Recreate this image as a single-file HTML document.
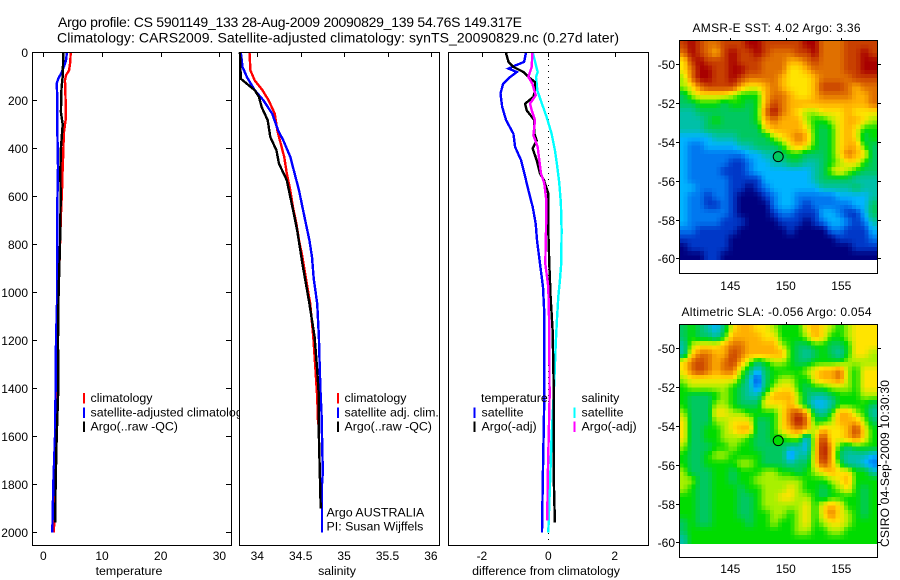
<!DOCTYPE html>
<html>
<head>
<meta charset="utf-8">
<title>Argo profile</title>
<style>
html,body{margin:0;padding:0;background:#fff;width:900px;height:580px;overflow:hidden}
svg{display:block}
text{font-family:"Liberation Sans",sans-serif;font-size:12px;fill:#000}
.ttl{font-size:14px}
.lab{font-size:12.4px}
</style>
</head>
<body>
<svg id="fig" xmlns="http://www.w3.org/2000/svg" width="900" height="580" viewBox="0 0 900 580">
<rect width="900" height="580" fill="#fff"/>
<text class="ttl" x="58" y="27" textLength="464">Argo profile: CS 5901149_133 28-Aug-2009 20090829_139 54.76S 149.317E</text>
<text class="ttl" x="57" y="42.5" textLength="562">Climatology: CARS2009. Satellite-adjusted climatology: synTS_20090829.nc (0.27d later)</text>
<g id="p1"></g>
<g id="p2"></g>
<g id="p3"></g>
<g id="m1"></g>
<g id="m2"></g>
<text transform="translate(889,547) rotate(-90)" x="0" y="0" textLength="167">CSIRO 04-Sep-2009 10:30:30</text>
</svg>
<script>
// ---- axis tick data
const depthTicks = [0,200,400,600,800,1000,1200,1400,1600,1800,2000];
const tempTicks = [0,10,20,30];
const salTicks = [34,34.5,35,35.5,36];
const salTickLabels = ['34','34.5','35','35.5','36'];
const diffTicks = [-2,0,2];
const lonTicks = [145,150,155];
const latTicks = [-50,-52,-54,-56,-58,-60];

// ---- temperature profiles
const tempClimDepth = [0,40,75,96,117,200,283,337,421,477,575,680,1000,1400,1550,2000];
const tempClim = [4.67,4.6,4.4,3.87,3.7,3.8,3.8,3.5,3.4,3.3,3.18,3.0,2.6,2.4,2.3,1.8];
const tempSatDepth = [0,30,54,83,110,130,200,337,477,617,800,1000,1200,1400,1600,1800,2000];
const tempSat = [4.0,3.9,3.6,3.13,2.55,2.28,2.4,2.4,2.5,2.4,2.4,2.38,2.16,2.1,2.0,1.7,1.54];
const tempArgoDepth = [0,100,150,250,300,400,500,600,800,1000,1200,1400,1600,1800,1960];
const tempArgo = [3.4,3.3,3.1,3.0,3.3,3.0,2.9,2.96,2.85,2.6,2.5,2.55,2.28,2.1,2.05];

// ---- salinity profiles
const salClimDepth = [0,75,117,158,200,255,325,367,436,505,575,644,714,783,853,942,1047,1186,1325,1436,1550];
const salClim = [33.91,33.92,33.97,34.06,34.13,34.2,34.23,34.26,34.31,34.34,34.38,34.41,34.45,34.48,34.52,34.56,34.61,34.645,34.67,34.69,34.7];
const salSatDepth = [0,61,103,158,200,255,325,367,436,505,575,644,714,783,853,942,1047,1186,1325,1436,1500,1750,1800,2000];
const salSat = [33.81,33.83,33.88,33.97,34.07,34.17,34.24,34.3,34.38,34.43,34.48,34.52,34.56,34.6,34.63,34.65,34.69,34.71,34.72,34.73,34.74,34.755,34.745,34.745];
const salArgoDepth = [0,110,137,158,186,228,283,353,408,464,533,603,672,742,811,881,942,1047,1186,1325,1436,1600,1900];
const salArgo = [33.8,33.81,33.9,33.97,34.02,34.05,34.12,34.15,34.22,34.25,34.34,34.38,34.42,34.46,34.49,34.52,34.55,34.6,34.66,34.69,34.71,34.71,34.73];

// ---- differences from climatology
const diffTempSatDepth = [0,40,54,68,82,103,131,172,228,283,339,394,450,505,575,644,714,783,881,978,1089,1436,1800,2000];
const diffTempSat = [-0.67,-0.73,-0.98,-1.2,-0.95,-1.15,-1.36,-1.44,-1.39,-1.27,-1.05,-1.0,-0.82,-0.72,-0.6,-0.47,-0.38,-0.34,-0.25,-0.16,-0.12,-0.12,-0.17,-0.19];
const diffTempArgoDepth = [0,40,61,82,103,124,158,186,214,242,283,339,367,401,450,505,533,589,742,881,1019,1158,1436,1800,1960];
const diffTempArgo = [-1.28,-1.2,-1.05,-0.75,-0.6,-0.4,-0.4,-0.45,-0.7,-0.65,-0.42,-0.42,-0.35,-0.47,-0.35,-0.25,-0.13,0,0,0.03,0.07,0.13,0.17,0.17,0.2];
const diffSalSatDepth = [0,50,82,103,158,200,269,339,408,478,546,630,742,881,950,1019,1117,1228,1339,1436,1600,1800,2000];
const diffSalSat = [-0.47,-0.38,-0.32,-0.37,-0.33,-0.23,-0.05,0.1,0.2,0.27,0.33,0.38,0.4,0.39,0.35,0.3,0.26,0.22,0.19,0.16,0.1,0.05,0];
const diffSalArgoDepth = [0,61,103,131,179,214,242,283,346,394,450,505,546,617,742,881,978,1158,1436,1800,1950];
const diffSalArgo = [-0.48,-0.5,-0.6,-0.48,-0.38,-0.55,-0.5,-0.4,-0.45,-0.32,-0.27,-0.22,-0.12,-0.06,-0.07,-0.09,0,0.03,0.04,-0.02,-0.03];

// ---- SST map (colour level per cell, north to south)
const sstGrid = [
[11,12,11,10,10,11,11,11,12,12,11,11,11,11,11,12,12,10,10,10,11,11,11,11],
[10,12,11,10,9,11,12,11,11,12,11,10,10,10,11,11,12,10,10,10,11,11,12,11],
[8,11,12,11,11,11,12,11,11,11,10,10,10,9,9,10,11,10,10,10,11,11,12,12],
[8,10,12,12,11,11,12,12,11,11,10,10,10,8,8,9,10,10,10,10,11,11,12,12],
[7,10,12,12,11,11,12,11,10,10,10,10,9,8,8,8,9,10,10,10,10,11,11,11],
[7,8,10,11,11,11,11,9,8,8,9,10,9,8,8,8,9,11,11,11,10,9,10,10],
[5,7,8,8,8,8,7,6,6,6,9,10,10,9,8,8,9,10,10,10,10,9,9,10],
[5,5,6,6,6,5,6,6,5,6,9,11,10,9,9,9,9,9,9,9,9,9,9,10],
[4,4,5,5,5,5,5,5,5,6,10,12,10,9,8,7,7,8,8,8,9,8,8,8],
[4,4,4,5,6,5,5,5,5,6,9,10,9,9,9,7,6,6,7,8,9,9,8,7],
[4,4,4,5,5,5,5,5,5,5,8,9,9,9,9,8,6,5,6,8,9,8,6,6],
[3,3,3,3,4,4,4,5,5,5,5,7,8,9,10,9,6,5,6,8,9,8,5,6],
[3,2,2,3,3,3,3,4,4,5,5,5,6,8,9,8,6,5,6,8,9,9,6,5],
[3,2,2,2,2,2,2,2,3,3,4,4,5,6,6,5,5,5,6,8,10,9,8,5],
[3,2,2,2,2,2,1,1,2,3,3,4,4,5,5,4,4,5,6,7,8,8,6,5],
[3,2,2,2,2,1,1,1,2,3,3,3,3,3,3,3,4,5,7,8,7,6,5,5],
[3,2,2,2,2,2,1,1,1,1,3,3,3,3,3,3,4,5,5,5,5,4,4,4],
[3,3,2,2,2,2,1,1,0,1,2,3,3,3,3,3,3,4,4,4,4,5,4,4],
[3,2,2,1,2,2,1,0,0,0,1,2,3,3,2,2,2,2,2,3,3,3,3,4],
[3,2,2,1,1,2,1,0,0,0,0,2,3,3,2,1,2,2,2,2,2,3,3,5],
[3,2,2,2,2,2,1,0,0,0,0,1,2,2,1,1,1,3,3,2,1,1,3,5],
[3,2,2,2,2,1,1,1,0,0,0,0,1,1,1,0,1,2,3,3,2,1,2,4],
[2,2,1,1,1,1,1,0,0,0,0,0,0,1,0,0,0,0,2,2,1,1,1,3],
[1,1,1,1,1,1,0,0,0,0,0,0,0,0,0,0,0,0,0,1,1,1,1,2],
[0,1,1,1,1,1,0,0,0,0,0,0,0,0,0,0,0,0,0,0,0,1,1,1],
[0,0,0,1,1,0,0,0,0,0,0,0,0,0,0,0,0,0,0,0,0,0,0,0]
];

// ---- SLA map (colour level per cell, north to south)
const slaGrid = [
[5,6,5,4,3,5,8,9,9,8,8,7,6,6,6,8,9,8,7,6,7,8,8,8],
[5,6,5,5,4,6,9,9,9,9,8,8,6,6,6,7,9,8,6,6,7,8,8,8],
[4,7,8,8,8,9,10,10,9,9,9,9,7,6,5,5,6,6,5,5,6,8,8,8],
[4,8,10,10,9,9,11,10,9,9,9,9,9,6,5,4,5,6,5,4,6,8,8,7],
[8,10,11,10,9,10,11,9,7,5,6,7,7,6,5,5,6,6,6,6,7,7,7,7],
[8,10,11,10,9,10,10,7,5,3,5,6,6,6,6,7,8,9,9,10,7,6,8,8],
[7,8,8,8,8,8,8,6,4,1,5,6,7,7,6,6,8,9,9,10,7,6,8,8],
[6,7,7,7,7,7,6,5,4,2,5,7,8,8,6,5,6,6,7,7,7,6,8,8],
[6,5,5,5,6,7,6,5,4,4,7,9,9,9,7,5,4,4,5,6,6,6,7,7],
[6,5,5,5,7,7,6,5,5,5,8,8,8,9,7,5,3,3,4,6,6,6,6,5],
[7,5,5,5,8,8,7,7,6,6,6,6,8,10,11,9,5,4,6,9,9,7,6,4],
[8,5,5,5,7,7,8,8,8,5,5,6,8,10,12,10,6,6,7,9,9,9,7,5],
[8,5,5,6,6,7,8,9,9,5,5,6,8,9,10,9,7,9,8,8,9,11,8,6],
[8,5,5,6,6,7,7,7,6,5,5,6,6,7,7,3,8,11,8,8,9,10,8,6],
[7,5,5,5,6,6,7,6,6,5,5,5,5,4,4,3,8,12,9,6,5,6,6,6],
[6,5,5,6,7,7,6,6,6,6,5,5,5,2,4,4,8,12,9,5,4,4,4,3],
[6,5,5,6,6,6,6,7,7,6,5,5,5,4,5,5,8,11,9,6,4,4,3,2],
[7,5,5,5,6,6,5,6,6,6,7,7,6,6,5,6,7,8,9,8,8,6,6,4],
[7,7,5,5,6,6,5,6,6,7,7,7,7,7,7,6,6,6,7,8,9,6,6,6],
[7,6,5,5,6,6,6,5,6,6,7,7,7,8,7,6,6,5,6,7,8,6,5,6],
[6,6,5,5,6,6,6,5,5,6,7,7,8,8,7,7,6,5,6,6,6,6,5,6],
[6,6,5,5,6,6,6,5,5,6,7,7,7,7,7,8,6,8,9,8,6,6,5,6],
[6,6,5,5,6,6,6,5,5,6,6,7,7,6,7,8,6,8,10,8,7,6,5,6],
[5,6,5,5,6,6,6,6,5,6,6,7,6,6,7,8,6,7,8,8,7,6,6,6],
[5,6,6,6,6,6,6,6,6,6,6,6,6,6,7,7,6,6,7,7,6,6,6,6],
[4,6,6,6,6,6,6,6,6,6,6,6,6,6,6,6,6,6,6,6,6,6,6,6]
];

const floatLon = 149.317;
const floatLat = -54.76;
const sstFloatLevel = 5;
const slaFloatLevel = 6;
const lonStart = 140.4, lonStep = 17.8/24;
const latStart = -48.76, latStep = 11.31/26;

const NS = 'http://www.w3.org/2000/svg';
const palette = [[0,0,127],[0,56,200],[0,120,240],[0,180,255],[0,192,168],[0,200,96],[0,220,0],[168,240,0],[255,228,0],[255,176,0],[224,112,0],[200,64,0],[168,0,0]];

function colourFor(level){
  const v = Math.max(0, Math.min(palette.length-1, level));
  const a = Math.floor(v), b = Math.min(palette.length-1, a+1), f = v-a;
  const c = [0,1,2].map(function(k){ return Math.round(palette[a][k]*(1-f)+palette[b][k]*f); });
  return 'rgb('+c.join(',')+')';
}
function sampleGrid(grid, u, v){
  const rows = grid.length, cols = grid[0].length;
  const x = Math.max(0, Math.min(cols-1, u)), y = Math.max(0, Math.min(rows-1, v));
  const x0 = Math.floor(x), y0 = Math.floor(y);
  const x1 = Math.min(cols-1, x0+1), y1 = Math.min(rows-1, y0+1);
  const fx = x-x0, fy = y-y0;
  return (grid[y0][x0]*(1-fx)+grid[y0][x1]*fx)*(1-fy) + (grid[y1][x0]*(1-fx)+grid[y1][x1]*fx)*fy;
}
function el(parent, tag, attrs, txt){
  const e = document.createElementNS(NS, tag);
  for (const k in attrs) e.setAttribute(k, attrs[k]);
  if (txt !== undefined) e.textContent = txt;
  parent.appendChild(e);
  return e;
}
function depthY(d){ return 52.3 + d*0.24; }
function tempX(v){ return 43.3 + v*5.87; }
function salX(v){ return 257.3 + (v-34)*86.8; }
function diffX(v){ return 548.3 + v*33.2; }

function panelBox(g, x, w){
  const r = el(g,'rect',{x:x+0.5,y:52.5,width:w,height:493,fill:'#fff'});
  
  
}
function panelFrame(g, x, w){
  const r = el(g,'rect',{x:x+0.5,y:52.5,width:w,height:493,fill:'none',stroke:'#000','stroke-width':1,'shape-rendering':'crispEdges'});
  
  
}
function xAxis(g, ticks, labels, sx){
  ticks.forEach(function(t,i){
    const x = Math.round(sx(t))+0.5;
    const top = el(g,'line',{x1:x,x2:x,y1:52,y2:57,stroke:'#000','shape-rendering':'crispEdges'});
    
    
    const lb = el(g,'text',{x:sx(t),y:560,'text-anchor':'middle'},labels[i]);
    
    
  });
}
function profile(g, depths, values, sx, colour, name, width){
  const pts = values.map(function(v,i){ return sx(v).toFixed(1)+','+depthY(depths[i]).toFixed(1); }).join(' ');
  const pl = el(g,'polyline',{points:pts,fill:'none',stroke:colour,'stroke-width':width||2.4,'shape-rendering':'crispEdges'});
  
  
}
function legendItem(g, barX, textX, y, colour, label){
  if (colour){
    const b = el(g,'rect',{x:barX,y:y-9,width:2,height:10.5,fill:colour});
    
    
  }
  const t = el(g,'text',{x:textX,y:y,'class':'lab'},label);
  
  
}
function xTitle(g, x, label){
  const t = el(g,'text',{x:x,y:575,'text-anchor':'middle','class':'lab'},label);
  
  
}

// temperature panel
const p1 = document.getElementById('p1');
panelBox(p1,32,199);
profile(p1,tempClimDepth,tempClim,tempX,'#f00','temperature-climatology-line');
profile(p1,tempSatDepth,tempSat,tempX,'#00f','temperature-satellite-line');
profile(p1,tempArgoDepth,tempArgo,tempX,'#000','temperature-argo-line');
panelFrame(p1,32,199);
xAxis(p1,tempTicks,tempTicks.map(String),tempX);
depthTicks.forEach(function(d){
  const y = Math.round(depthY(d))+0.5;
  const a = el(p1,'line',{x1:32,x2:37,y1:y,y2:y,stroke:'#000','shape-rendering':'crispEdges'});
  
  
  const b = el(p1,'line',{x1:226,x2:231,y1:y,y2:y,stroke:'#000','shape-rendering':'crispEdges'});
  
  
  const t = el(p1,'text',{x:28,y:y+4.5,'text-anchor':'end'},String(d));
  
  
});
legendItem(p1,83,90.5,402,'#f00','climatology');
legendItem(p1,83,90.5,416.5,'#00f','satellite-adjusted climatology');
legendItem(p1,83,90.5,430.5,'#000','Argo(..raw -QC)');
xTitle(p1,129,'temperature');

// salinity panel
const p2 = document.getElementById('p2');
panelBox(p2,239,200);
profile(p2,salClimDepth,salClim,salX,'#f00','salinity-climatology-line');
profile(p2,salSatDepth,salSat,salX,'#00f','salinity-satellite-line');
profile(p2,salArgoDepth,salArgo,salX,'#000','salinity-argo-line');
panelFrame(p2,239,200);
xAxis(p2,salTicks,salTickLabels,salX);
legendItem(p2,337,344.5,402,'#f00','climatology');
legendItem(p2,337,344.5,416.5,'#00f','satellite adj. clim.');
legendItem(p2,337,344.5,430.5,'#000','Argo(..raw -QC)');
legendItem(p2,0,326.5,516.5,null,'Argo AUSTRALIA');
legendItem(p2,0,326.5,530.5,null,'PI: Susan Wijffels');
xTitle(p2,337,'salinity');

// difference panel
const p3 = document.getElementById('p3');
panelBox(p3,448,200);
const zero = el(p3,'line',{x1:diffX(0),x2:diffX(0),y1:53,y2:545,stroke:'#000','stroke-width':1,'stroke-dasharray':'1 5','shape-rendering':'crispEdges'});


profile(p3,diffSalSatDepth,diffSalSat,diffX,'#0ff','difference-salinity-satellite-line');
profile(p3,diffTempSatDepth,diffTempSat,diffX,'#00f','difference-temperature-satellite-line');
profile(p3,diffTempArgoDepth,diffTempArgo,diffX,'#000','difference-temperature-argo-line');
profile(p3,diffSalArgoDepth,diffSalArgo,diffX,'#f0f','difference-salinity-argo-line');
panelFrame(p3,448,200);
xAxis(p3,diffTicks,diffTicks.map(String),diffX);
legendItem(p3,0,481,402,null,'temperature');
legendItem(p3,473.5,481.5,416.5,'#00f','satellite');
legendItem(p3,473.5,481.5,430.5,'#000','Argo(-adj)');
legendItem(p3,0,581.5,402,null,'salinity');
legendItem(p3,573.5,581.5,416.5,'#0ff','satellite');
legendItem(p3,573.5,581.5,430.5,'#f0f','Argo(-adj)');
xTitle(p3,546,'difference from climatology');

// maps: each grid cell is drawn as 2x2 smoothly shaded sub-cells
const subdivide = 2;
function drawMap(g, grid, top, bottom, lat50Y, titleText, titleX, titleLen, titleY, labelY, floatLevel, namePrefix){
  const sx = function(lon){ return 730.3 + (lon-145)*11.1; };
  const sy = function(lat){ return lat50Y + (-50-lat)*19.4; };
  const nx = grid[0].length*subdivide, ny = grid.length*subdivide;
  for (let j=0;j<ny;j++){
    for (let i=0;i<nx;i++){
      const u = (i+0.5)/subdivide-0.5, v = (j+0.5)/subdivide-0.5;
      const x0 = sx(lonStart+i/subdivide*lonStep), x1 = sx(lonStart+(i+1)/subdivide*lonStep);
      const y0 = sy(latStart-j/subdivide*latStep), y1 = sy(latStart-(j+1)/subdivide*latStep);
      const c = el(g,'rect',{x:x0.toFixed(2),y:y0.toFixed(2),width:(x1-x0+0.5).toFixed(2),height:(y1-y0+0.5).toFixed(2),fill:colourFor(sampleGrid(grid,u,v)),'shape-rendering':'crispEdges'});
      
      
    }
  }
  const fr = el(g,'rect',{x:679.5,y:top+0.5,width:198,height:bottom-top,fill:'none',stroke:'#000','shape-rendering':'crispEdges'});
  
  
  lonTicks.forEach(function(t){
    const x = Math.round(sx(t))+0.5;
    const k = el(g,'line',{x1:x,x2:x,y1:top-2,y2:top,stroke:'#000','shape-rendering':'crispEdges'});
    
    
    const l = el(g,'text',{x:sx(t),y:labelY,'text-anchor':'middle'},String(t));
    
    
  });
  latTicks.forEach(function(t){
    const y = Math.round(sy(t))+0.5;
    const a = el(g,'line',{x1:676,x2:679,y1:y,y2:y,stroke:'#000','shape-rendering':'crispEdges'});
    
    
    const b = el(g,'line',{x1:878,x2:881,y1:y,y2:y,stroke:'#000','shape-rendering':'crispEdges'});
    
    
    const l = el(g,'text',{x:675,y:y+4.5,'text-anchor':'end'},String(t));
    
    
  });
  const mk = el(g,'circle',{cx:sx(floatLon),cy:sy(floatLat),r:5,fill:colourFor(floatLevel),stroke:'#000','stroke-width':1});
  
  
  const tt = el(g,'text',{x:titleX,y:titleY,textLength:titleLen},titleText);
  
  
}
drawMap(document.getElementById('m1'),sstGrid,40,273,64.3,'AMSR-E SST: 4.02 Argo: 3.36',692.5,168,32,290,sstFloatLevel,'sst');
drawMap(document.getElementById('m2'),slaGrid,324,557,348.3,'Altimetric SLA: -0.056 Argo: 0.054',681.5,190,316,573,slaFloatLevel,'sla');
</script>
</body>
</html>
